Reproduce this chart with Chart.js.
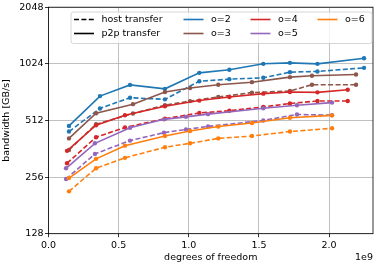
<!DOCTYPE html>
<html>
<head>
<meta charset="utf-8">
<script src="https://cdn.jsdelivr.net/npm/chart.js@4.4.1/dist/chart.umd.min.js"></script>
<style>
    html, body { margin: 0; padding: 0; background: #ffffff; }
    #wrap { width: 381px; height: 267px; }
</style>
</head>
<body>
<div id="wrap"><canvas id="bandwidthChart"></canvas></div>
<script>
// degrees of freedom (in units of 1e9) and bandwidth [GB/s] per order
const dofO2 = [0.146, 0.367, 0.581, 0.830, 1.075, 1.289, 1.531, 1.721, 1.917, 2.249];
const p2pO2 = [479, 690, 791, 754, 917, 952, 1024, 1036, 1024, 1096];
const hostO2 = [447, 593, 676, 663, 828, 849, 863, 925, 933, 975];

const dofO3 = [0.146, 0.339, 0.602, 0.830, 1.009, 1.210, 1.450, 1.721, 1.878, 2.192];
const p2pO3 = [411, 559, 625, 725, 761, 793, 818, 870, 885, 899];
const hostO3 = [357, 489, 557, 617, 649, 682, 720, 734, 793, 793];

const dofO4 = [0.132, 0.339, 0.545, 0.830, 1.075, 1.289, 1.531, 1.721, 1.917, 2.133];
const p2pO4 = [353, 483, 546, 609, 653, 682, 711, 725, 722, 746];
const hostO4 = [303, 417, 470, 523, 561, 577, 604, 630, 650, 650];

const dofO5 = [0.125, 0.331, 0.581, 0.823, 0.980, 1.137, 1.531, 1.771, 2.021];
const p2pO5 = [285, 387, 468, 519, 535, 553, 595, 617, 637];
const hostO5 = [250, 340, 400, 441, 459, 476, 512, 551, 546];

const dofO6 = [0.146, 0.339, 0.545, 0.830, 1.009, 1.210, 1.450, 1.721, 2.021];
const p2pO6 = [253, 320, 376, 423, 450, 475, 496, 529, 545];
const hostO6 = [215, 285, 324, 369, 387, 411, 423, 447, 465];

const orderLabels = ['o=2', 'o=3', 'o=4', 'o=5', 'o=6'];
const transferLabels = ['host transfer', 'p2p transfer'];
const xTicks = [0.0, 0.5, 1.0, 1.5, 2.0];
const yTicks = [128, 256, 512, 1024, 2048];

const orderColors = ['#1f77b4', '#8c564b', '#d62728', '#9467bd', '#ff7f0e'];
const dashPattern = [5, 2.4];
const fontFamily = '"DejaVu Sans", sans-serif';
const fontSize = 9.5;

const runs = [
    { dof: dofO2, p2p: p2pO2, host: hostO2 },
    { dof: dofO3, p2p: p2pO3, host: hostO3 },
    { dof: dofO4, p2p: p2pO4, host: hostO4 },
    { dof: dofO5, p2p: p2pO5, host: hostO5 },
    { dof: dofO6, p2p: p2pO6, host: hostO6 },
];

const toPoints = (xs, ys) => xs.map((x, i) => ({ x: x, y: ys[i] }));

const makeSet = (label, points, color, dashed) => ({
    label: label,
    data: points,
    showLine: true,
    borderColor: color,
    backgroundColor: color,
    borderWidth: 1.6,
    borderDash: dashed ? dashPattern : [],
    pointRadius: 2.2,
    pointBorderWidth: 0,
    pointBackgroundColor: color,
    tension: 0,
});

// matplotlib draws later lines on top; chart.js draws index 0 last
let datasets = [];
runs.forEach((run, i) => {
    datasets.push(makeSet(orderLabels[i] + ' host', toPoints(run.dof, run.host), orderColors[i], true));
    datasets.push(makeSet(orderLabels[i] + ' p2p', toPoints(run.dof, run.p2p), orderColors[i], false));
});
datasets = datasets.reverse();

// frame, legend and offset text
const framePlugin = {
    id: 'mplFrame',
    afterDraw(chart) {
        const { ctx, chartArea: a } = chart;
        ctx.save();
        ctx.strokeStyle = '#000';
        ctx.lineWidth = 0.8;
        ctx.strokeRect(a.left, a.top, a.right - a.left, a.bottom - a.top);

        // legend box
        const bx = 71, by = 12, bw = 301, bh = 31.5, r = 2.5;
        ctx.beginPath();
        ctx.moveTo(bx + r, by);
        ctx.arcTo(bx + bw, by, bx + bw, by + bh, r);
        ctx.arcTo(bx + bw, by + bh, bx, by + bh, r);
        ctx.arcTo(bx, by + bh, bx, by, r);
        ctx.arcTo(bx, by, bx + bw, by, r);
        ctx.closePath();
        ctx.fillStyle = 'rgba(255,255,255,0.8)';
        ctx.fill();
        ctx.strokeStyle = '#cccccc';
        ctx.lineWidth = 0.8;
        ctx.stroke();

        const entries = [
            { text: transferLabels[0], color: '#000', dashed: true },
            { text: transferLabels[1], color: '#000', dashed: false },
        ];
        orderLabels.forEach((t, i) => entries.push({ text: t, color: orderColors[i], dashed: false }));

        const colX = [74, 183.5, 250.5, 317.5];
        const rowY = [19.5, 33.5];
        ctx.font = fontSize + 'px ' + fontFamily;
        ctx.textBaseline = 'middle';
        ctx.textAlign = 'left';
        entries.forEach((e, i) => {
            const x = colX[Math.floor(i / 2)];
            const y = rowY[i % 2];
            ctx.beginPath();
            ctx.setLineDash(e.dashed ? dashPattern : []);
            ctx.strokeStyle = e.color;
            ctx.lineWidth = 1.6;
            ctx.moveTo(x, y);
            ctx.lineTo(x + 20, y);
            ctx.stroke();
            ctx.setLineDash([]);
            ctx.fillStyle = '#000';
            ctx.fillText(e.text, x + 27.5, y);
        });

        // scientific offset of the x axis
        ctx.textAlign = 'right';
        ctx.fillText('1e9', a.right, 258);
        ctx.restore();
    }
};

const ctx = document.getElementById('bandwidthChart');
new Chart(ctx, {
    type: 'scatter',
    data: { datasets: datasets },
    options: {
        responsive: true,
        maintainAspectRatio: false,
        animation: false,
        devicePixelRatio: 1,
        layout: { padding: { top: 5.5, right: 8, left: 0, bottom: 0 } },
        plugins: {
            legend: { display: false },
            tooltip: { enabled: false },
        },
        scales: {
            x: {
                type: 'linear',
                min: 0,
                max: 2.313,
                afterBuildTicks: (scale) => { scale.ticks = xTicks.map(v => ({ value: v })); },
                afterFit: (scale) => { scale.height = 33.3; },
                border: { display: false },
                grid: {
                    color: '#b0b0b0',
                    lineWidth: 0.8,
                    tickColor: '#000',
                    tickWidth: 0.8,
                    tickLength: 3.5,
                },
                ticks: {
                    color: '#000',
                    padding: 2.5,
                    font: { family: fontFamily, size: fontSize },
                    callback: (v) => Number(v).toFixed(1),
                },
                title: {
                    display: true,
                    text: 'degrees of freedom',
                    color: '#000',
                    padding: { top: 0, bottom: 3.3 },
                    font: { family: fontFamily, size: fontSize },
                },
            },
            y: {
                type: 'logarithmic',
                min: 128,
                max: 2048,
                afterBuildTicks: (scale) => { scale.ticks = yTicks.map(v => ({ value: v })); },
                afterFit: (scale) => { scale.width = 48.5; },
                border: { display: false },
                grid: {
                    color: '#b0b0b0',
                    lineWidth: 0.8,
                    tickColor: '#000',
                    tickWidth: 0.8,
                    tickLength: 3.5,
                },
                ticks: {
                    color: '#000',
                    padding: 1.5,
                    font: { family: fontFamily, size: fontSize },
                    callback: (v) => String(v),
                },
                title: {
                    display: true,
                    text: 'bandwidth [GB/s]',
                    color: '#000',
                    padding: { top: 1.3, bottom: 0 },
                    font: { family: fontFamily, size: fontSize },
                },
            },
        },
    },
    plugins: [framePlugin],
});
</script>
</body>
</html>
